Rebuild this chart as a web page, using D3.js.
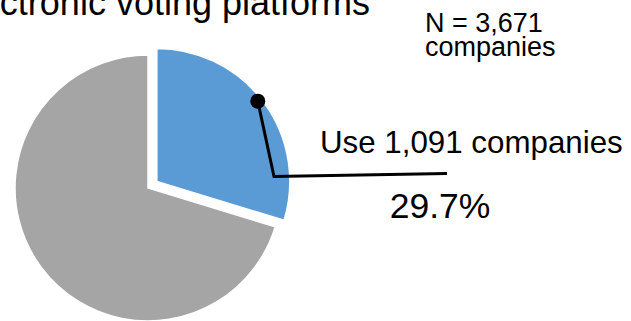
<!DOCTYPE html>
<html>
<head>
<meta charset="utf-8">
<script src="https://cdn.jsdelivr.net/npm/d3@7"></script>
<style>
  html, body { margin: 0; padding: 0; background: #fff; overflow: hidden; }
  svg { display: block; font-family: "Liberation Sans", Arial, sans-serif; }
</style>
</head>
<body>
<svg id="chart" width="631" height="321"></svg>
<script>
// Companies using / not using electronic voting platforms
const categories = ["Use", "Do not use"];
const companies = [1091, 2580];
const totalLabel = "N = 3,671";
const totalUnit = "companies";
const titleText = "ctronic voting platforms";

const colors = ["#5B9BD5", "#A5A5A5"];

const svg = d3.select("#chart");
const cx = 148, cy = 188, radius = 133, explode = 11;

const pie = d3.pie().sort(null).value(d => d)(companies);
const arc = d3.arc().innerRadius(0).outerRadius(radius);
const total = d3.sum(companies);

// title (runs off the left/top edge)
svg.append("text")
  .attr("x", 370).attr("y", 15)
  .attr("text-anchor", "end")
  .attr("font-size", 36)
  .attr("fill", "#000")
  .text(titleText);

// total count note
const note = svg.append("text")
  .attr("font-size", 27).attr("fill", "#000");
note.append("tspan").attr("x", 425).attr("y", 32).text(totalLabel);
note.append("tspan").attr("x", 425).attr("y", 56).text(totalUnit);

// slices; the "Use" slice is pulled out along its bisector
const g = svg.append("g").attr("transform", `translate(${cx},${cy})`);
const offset = d => {
  if (d.index !== 0) return [0, 0];
  const mid = (d.startAngle + d.endAngle) / 2;
  return [Math.sin(mid) * explode, -Math.cos(mid) * explode];
};
g.selectAll("path.slice")
  .data(pie)
  .join("path")
  .attr("class", "slice")
  .attr("d", arc)
  .attr("transform", d => `translate(${offset(d)})`)
  .attr("fill", (d, i) => colors[i])
  .attr("stroke", "#fff")
  .attr("stroke-width", 1.5);

// leader line from the "Use" slice to its label
const use = pie[0];
const [ox, oy] = offset(use);
const dotAngle = (use.startAngle + use.endAngle) / 2 - 0.035;
const dotR = radius - 4;
const dot = [cx + ox + Math.sin(dotAngle) * dotR, cy + oy - Math.cos(dotAngle) * dotR];
const elbow = [274, 176.5];
const lineEnd = [447, 173.5];

svg.append("path")
  .attr("d", d3.line()([dot, elbow, lineEnd]))
  .attr("fill", "none")
  .attr("stroke", "#000")
  .attr("stroke-width", 3);
svg.append("circle")
  .attr("cx", dot[0]).attr("cy", dot[1]).attr("r", 7.5)
  .attr("fill", "#000");

svg.append("text")
  .attr("x", 320).attr("y", 153)
  .attr("font-size", 31.3)
  .attr("fill", "#000")
  .text(`${categories[0]} ${d3.format(",")(companies[0])} companies`);

svg.append("text")
  .attr("x", 440).attr("y", 218)
  .attr("text-anchor", "middle")
  .attr("font-size", 35.5)
  .attr("fill", "#000")
  .text(d3.format(".1%")(companies[0] / total));
</script>
</body>
</html>
